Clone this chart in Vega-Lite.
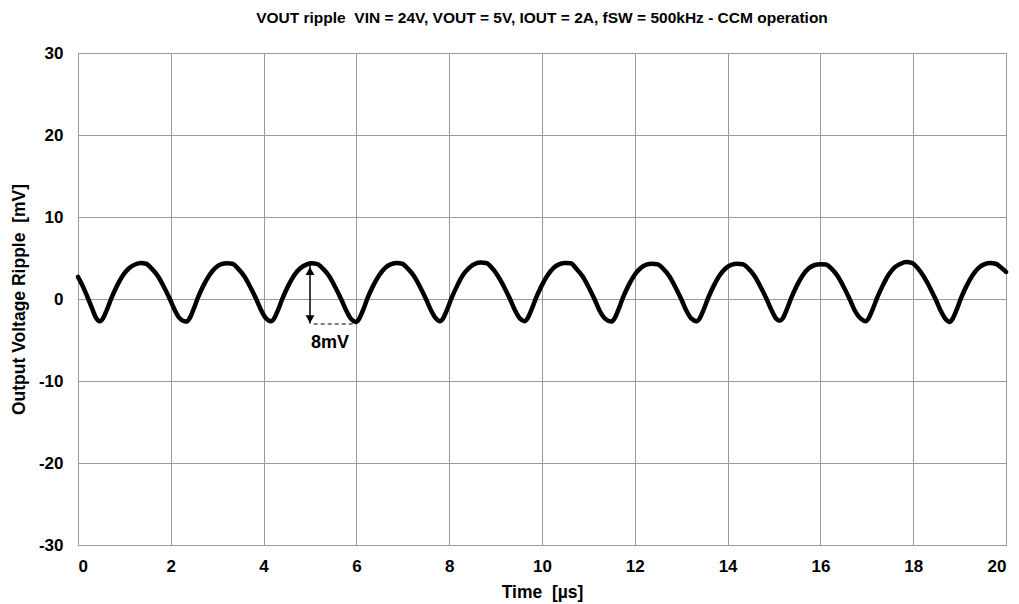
{
  "$schema": "https://vega.github.io/schema/vega-lite/v6.json",
  "width": 928,
  "height": 492,
  "autosize": {"type": "none"},
  "padding": {"left": 78, "top": 53, "right": 13, "bottom": 59},
  "background": "white",
  "title": {
    "text": "VOUT ripple\u00a0\u00a0VIN = 24V, VOUT = 5V, IOUT = 2A, fSW = 500kHz - CCM operation",
    "font": "Liberation Sans",
    "fontSize": 15.5,
    "fontWeight": "bold",
    "color": "#000000",
    "anchor": "middle",
    "offset": 18
  },
  "config": {
    "view": {"stroke": "#9a9a9a", "strokeWidth": 1},
    "font": "Liberation Sans",
    "axis": {
      "gridColor": "#9a9a9a",
      "gridWidth": 1,
      "gridOpacity": 1,
      "domainColor": "#9a9a9a",
      "ticks": false,
      "labelFont": "Liberation Sans",
      "labelFontSize": 17,
      "labelFontWeight": "bold",
      "labelColor": "#000000",
      "labelExpr": "'' + datum.value",
      "titleFont": "Liberation Sans",
      "titleFontSize": 17.5,
      "titleFontWeight": "bold",
      "titleColor": "#000000"
    }
  },
  "datasets": {
    "ripple": [
      {"t": 0.0, "v": 2.7}, {"t": 0.1, "v": 1.6}, {"t": 0.2, "v": 0.3}, {"t": 0.3, "v": -1.1}, {"t": 0.38, "v": -2.2},
      {"t": 0.47, "v": -2.7}, {"t": 0.54, "v": -2.35}, {"t": 0.62, "v": -1.35}, {"t": 0.72, "v": 0.1}, {"t": 0.84, "v": 1.6}, {"t": 0.97, "v": 2.9}, {"t": 1.1, "v": 3.75}, {"t": 1.23, "v": 4.2}, {"t": 1.35, "v": 4.4}, {"t": 1.47, "v": 4.3}, {"t": 1.59, "v": 3.7}, {"t": 1.72, "v": 2.8}, {"t": 1.85, "v": 1.5}, {"t": 1.98, "v": 0.0}, {"t": 2.09, "v": -1.4}, {"t": 2.19, "v": -2.35},
      {"t": 2.33, "v": -2.75}, {"t": 2.4, "v": -2.4}, {"t": 2.48, "v": -1.4}, {"t": 2.58, "v": 0.1}, {"t": 2.7, "v": 1.6}, {"t": 2.83, "v": 2.9}, {"t": 2.96, "v": 3.8}, {"t": 3.09, "v": 4.25}, {"t": 3.21, "v": 4.35}, {"t": 3.33, "v": 4.3}, {"t": 3.45, "v": 3.7}, {"t": 3.58, "v": 2.8}, {"t": 3.71, "v": 1.5}, {"t": 3.84, "v": 0.0}, {"t": 3.95, "v": -1.4}, {"t": 4.05, "v": -2.35},
      {"t": 4.16, "v": -2.7}, {"t": 4.23, "v": -2.35}, {"t": 4.31, "v": -1.35}, {"t": 4.41, "v": 0.1}, {"t": 4.53, "v": 1.6}, {"t": 4.66, "v": 2.9}, {"t": 4.79, "v": 3.75}, {"t": 4.92, "v": 4.2}, {"t": 5.04, "v": 4.35}, {"t": 5.16, "v": 4.25}, {"t": 5.28, "v": 3.7}, {"t": 5.41, "v": 2.8}, {"t": 5.54, "v": 1.5}, {"t": 5.67, "v": 0.0}, {"t": 5.78, "v": -1.4}, {"t": 5.88, "v": -2.4},
      {"t": 5.99, "v": -2.8}, {"t": 6.06, "v": -2.4}, {"t": 6.14, "v": -1.4}, {"t": 6.24, "v": 0.1}, {"t": 6.36, "v": 1.6}, {"t": 6.49, "v": 2.9}, {"t": 6.62, "v": 3.8}, {"t": 6.75, "v": 4.25}, {"t": 6.87, "v": 4.4}, {"t": 6.99, "v": 4.3}, {"t": 7.11, "v": 3.7}, {"t": 7.24, "v": 2.8}, {"t": 7.37, "v": 1.5}, {"t": 7.5, "v": 0.0}, {"t": 7.61, "v": -1.4}, {"t": 7.71, "v": -2.35},
      {"t": 7.8, "v": -2.7}, {"t": 7.87, "v": -2.35}, {"t": 7.95, "v": -1.35}, {"t": 8.05, "v": 0.1}, {"t": 8.17, "v": 1.6}, {"t": 8.3, "v": 2.95}, {"t": 8.43, "v": 3.8}, {"t": 8.56, "v": 4.3}, {"t": 8.68, "v": 4.45}, {"t": 8.8, "v": 4.4}, {"t": 8.92, "v": 3.8}, {"t": 9.05, "v": 2.8}, {"t": 9.18, "v": 1.5}, {"t": 9.31, "v": 0.0}, {"t": 9.42, "v": -1.4}, {"t": 9.52, "v": -2.35},
      {"t": 9.62, "v": -2.7}, {"t": 9.69, "v": -2.35}, {"t": 9.77, "v": -1.35}, {"t": 9.87, "v": 0.1}, {"t": 9.99, "v": 1.6}, {"t": 10.12, "v": 2.9}, {"t": 10.25, "v": 3.8}, {"t": 10.38, "v": 4.25}, {"t": 10.5, "v": 4.4}, {"t": 10.62, "v": 4.35}, {"t": 10.74, "v": 3.7}, {"t": 10.87, "v": 2.8}, {"t": 11.0, "v": 1.5}, {"t": 11.13, "v": 0.0}, {"t": 11.24, "v": -1.4}, {"t": 11.36, "v": -2.4},
      {"t": 11.49, "v": -2.75}, {"t": 11.56, "v": -2.4}, {"t": 11.64, "v": -1.4}, {"t": 11.74, "v": 0.1}, {"t": 11.86, "v": 1.6}, {"t": 11.99, "v": 2.9}, {"t": 12.12, "v": 3.75}, {"t": 12.25, "v": 4.2}, {"t": 12.37, "v": 4.3}, {"t": 12.49, "v": 4.25}, {"t": 12.61, "v": 3.7}, {"t": 12.74, "v": 2.8}, {"t": 12.87, "v": 1.5}, {"t": 13.0, "v": 0.0}, {"t": 13.11, "v": -1.4}, {"t": 13.22, "v": -2.4},
      {"t": 13.33, "v": -2.7}, {"t": 13.4, "v": -2.35}, {"t": 13.48, "v": -1.35}, {"t": 13.58, "v": 0.1}, {"t": 13.7, "v": 1.6}, {"t": 13.83, "v": 2.9}, {"t": 13.96, "v": 3.75}, {"t": 14.09, "v": 4.2}, {"t": 14.21, "v": 4.3}, {"t": 14.33, "v": 4.25}, {"t": 14.45, "v": 3.7}, {"t": 14.58, "v": 2.8}, {"t": 14.71, "v": 1.5}, {"t": 14.84, "v": 0.0}, {"t": 14.95, "v": -1.4}, {"t": 15.04, "v": -2.35},
      {"t": 15.12, "v": -2.65}, {"t": 15.19, "v": -2.35}, {"t": 15.27, "v": -1.35}, {"t": 15.37, "v": 0.1}, {"t": 15.49, "v": 1.6}, {"t": 15.62, "v": 2.9}, {"t": 15.75, "v": 3.75}, {"t": 15.88, "v": 4.15}, {"t": 16.0, "v": 4.25}, {"t": 16.12, "v": 4.2}, {"t": 16.24, "v": 3.7}, {"t": 16.37, "v": 2.8}, {"t": 16.5, "v": 1.5}, {"t": 16.63, "v": 0.0}, {"t": 16.74, "v": -1.4}, {"t": 16.87, "v": -2.4},
      {"t": 16.97, "v": -2.7}, {"t": 17.04, "v": -2.35}, {"t": 17.12, "v": -1.35}, {"t": 17.22, "v": 0.1}, {"t": 17.34, "v": 1.6}, {"t": 17.47, "v": 2.95}, {"t": 17.6, "v": 3.85}, {"t": 17.73, "v": 4.3}, {"t": 17.85, "v": 4.5}, {"t": 17.97, "v": 4.4}, {"t": 18.09, "v": 3.8}, {"t": 18.22, "v": 2.8}, {"t": 18.35, "v": 1.5}, {"t": 18.48, "v": 0.0}, {"t": 18.59, "v": -1.4}, {"t": 18.69, "v": -2.4},
      {"t": 18.78, "v": -2.8}, {"t": 18.85, "v": -2.4}, {"t": 18.93, "v": -1.4}, {"t": 19.03, "v": 0.1}, {"t": 19.15, "v": 1.6}, {"t": 19.28, "v": 2.9}, {"t": 19.41, "v": 3.8}, {"t": 19.54, "v": 4.25}, {"t": 19.66, "v": 4.4}, {"t": 19.78, "v": 4.3}, {"t": 19.9, "v": 3.8}, {"t": 20.0, "v": 3.3}
    ],
    "arrow": [{"t": 5.0, "top": 4.3, "bottom": -3.0}],
    "heads": [{"t": 5.0, "v": 3.4, "dir": "up"}, {"t": 5.0, "v": -2.45, "dir": "down"}],
    "dash": [{"t1": 5.08, "t2": 6.0, "v": -3.05}],
    "label": [{"t": 5.43, "v": -5.4, "text": "8mV"}]
  },
  "layer": [
    {
      "data": {"name": "ripple"},
      "mark": {"type": "line", "color": "#000000", "strokeWidth": 4.5, "interpolate": "monotone", "strokeJoin": "round", "strokeCap": "round"},
      "encoding": {
        "x": {
          "field": "t", "type": "quantitative",
          "scale": {"domain": [0, 20], "nice": false, "zero": false},
          "axis": {"values": [0, 2, 4, 6, 8, 10, 12, 14, 16, 18, 20], "title": "Time\u00a0\u00a0[µs]", "labelPadding": 13, "titlePadding": 9}
        },
        "y": {
          "field": "v", "type": "quantitative",
          "scale": {"domain": [-30, 30], "nice": false},
          "axis": {"values": [-30, -20, -10, 0, 10, 20, 30], "title": "Output Voltage Ripple\u00a0\u00a0[mV]", "labelPadding": 15, "titlePadding": 10}
        }
      }
    },
    {
      "data": {"name": "arrow"},
      "mark": {"type": "rule", "color": "#000000", "strokeWidth": 1.5},
      "encoding": {
        "x": {"field": "t", "type": "quantitative"},
        "y": {"field": "top", "type": "quantitative"},
        "y2": {"field": "bottom"}
      }
    },
    {
      "data": {"name": "heads"},
      "mark": {"type": "point", "filled": true, "color": "#000000", "size": 80, "opacity": 1},
      "encoding": {
        "x": {"field": "t", "type": "quantitative"},
        "y": {"field": "v", "type": "quantitative"},
        "shape": {"field": "dir", "type": "nominal", "scale": {"domain": ["up", "down"], "range": ["triangle-up", "triangle-down"]}, "legend": null}
      }
    },
    {
      "data": {"name": "dash"},
      "mark": {"type": "rule", "color": "#000000", "strokeWidth": 1, "strokeDash": [4, 3]},
      "encoding": {
        "x": {"field": "t1", "type": "quantitative"},
        "x2": {"field": "t2"},
        "y": {"field": "v", "type": "quantitative"}
      }
    },
    {
      "data": {"name": "label"},
      "mark": {"type": "text", "font": "Liberation Sans", "fontSize": 18, "fontWeight": "bold", "color": "#000000", "align": "center", "baseline": "middle"},
      "encoding": {
        "x": {"field": "t", "type": "quantitative"},
        "y": {"field": "v", "type": "quantitative"},
        "text": {"field": "text"}
      }
    }
  ]
}
